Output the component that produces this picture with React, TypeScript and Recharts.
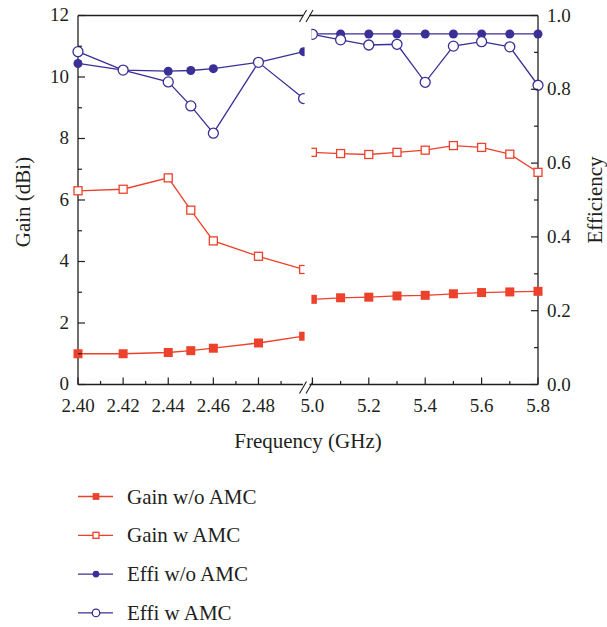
import React from "react";
import { LineChart, Line, XAxis, YAxis, Label } from "recharts";

// two bands on one broken frequency axis
const lowFreq = [2.4, 2.42, 2.44, 2.45, 2.46, 2.48, 2.5];
const highFreq = [5.0, 5.1, 5.2, 5.3, 5.4, 5.5, 5.6, 5.7, 5.8];

const gainWoLow = [1.0, 1.0, 1.04, 1.1, 1.18, 1.35, 1.57];
const gainWoHigh = [2.77, 2.82, 2.84, 2.88, 2.9, 2.95, 2.99, 3.01, 3.03];
const gainWLow = [6.3, 6.35, 6.72, 5.67, 4.67, 4.17, 3.74];
const gainWHigh = [7.55, 7.51, 7.48, 7.55, 7.62, 7.77, 7.71, 7.49, 6.9];
const effiWoLow = [0.87, 0.852, 0.849, 0.851, 0.856, 0.873, 0.902];
const effiWoHigh = [0.95, 0.95, 0.95, 0.95, 0.95, 0.95, 0.95, 0.95, 0.95];
const effiWLow = [0.902, 0.852, 0.82, 0.755, 0.681, 0.873, 0.775];
const effiWHigh = [0.949, 0.934, 0.92, 0.922, 0.819, 0.917, 0.929, 0.915, 0.811];

const lowMajorTicks = ["2.40", "2.42", "2.44", "2.46", "2.48"];
const lowMinorTicks = [2.41, 2.43, 2.45, 2.47, 2.49];
const highMajorTicks = ["5.0", "5.2", "5.4", "5.6", "5.8"];
const highMinorTicks = [5.1, 5.3, 5.5, 5.7];
const gainTicks = [0, 1, 2, 3, 4, 5, 6, 7, 8, 9, 10, 11, 12];
const effiTicks = [0, 0.1, 0.2, 0.3, 0.4, 0.5, 0.6, 0.7, 0.8, 0.9, 1.0];

const seriesNames = ["Gain w/o AMC", "Gain w AMC", "Effi w/o AMC", "Effi w AMC"];

const RED = "#EC412B";
const BLUE = "#3A2F96";
const INK = "#231F20";
const FONT = "'Liberation Serif', 'Times New Roman', serif";

type MarkerKind = "fsq" | "osq" | "fci" | "oci";

const series: { key: string; axis: string; color: string; kind: MarkerKind }[] = [
  { key: "gainWo", axis: "gain", color: RED, kind: "fsq" },
  { key: "gainW", axis: "gain", color: RED, kind: "osq" },
  { key: "effiWo", axis: "effi", color: BLUE, kind: "fci" },
  { key: "effiW", axis: "effi", color: BLUE, kind: "oci" },
];

// each band gets 100 axis units, with a small gap for the break
const SEG = 100;
const GAP = 3.9;
const BREAK = SEG + GAP / 2;
const X_MAX = 2 * SEG + GAP;
const LOW = [2.4, 2.5];
const HIGH = [5.0, 5.8];

const toPos = (f: number) =>
  f <= LOW[1] + 1e-9
    ? ((f - LOW[0]) / (LOW[1] - LOW[0])) * SEG
    : SEG + GAP + ((f - HIGH[0]) / (HIGH[1] - HIGH[0])) * SEG;

const lowRows = lowFreq.map((f, i) => ({
  pos: toPos(f),
  gainWo: gainWoLow[i],
  gainW: gainWLow[i],
  effiWo: effiWoLow[i],
  effiW: effiWLow[i],
  edge: i === lowFreq.length - 1 ? "end" : undefined,
}));
const gapRow = { pos: BREAK, gainWo: null, gainW: null, effiWo: null, effiW: null, edge: undefined };
const highRows = highFreq.map((f, i) => ({
  pos: toPos(f),
  gainWo: gainWoHigh[i],
  gainW: gainWHigh[i],
  effiWo: effiWoHigh[i],
  effiW: effiWHigh[i],
  edge: i === 0 ? "start" : undefined,
}));
const data = [...lowRows, gapRow, ...highRows];

type TickInfo = { label?: string; len: number; brk?: boolean };
const tk = (v: number) => v.toFixed(3);
const xTickInfo = new Map<string, TickInfo>();
lowMajorTicks.forEach((t) => xTickInfo.set(tk(toPos(+t)), { label: t, len: 7 }));
lowMinorTicks.forEach((f) => xTickInfo.set(tk(toPos(f)), { len: 3.5 }));
highMajorTicks.forEach((t) => xTickInfo.set(tk(toPos(+t)), { label: t, len: 7 }));
highMinorTicks.forEach((f) => xTickInfo.set(tk(toPos(f)), { len: 3.5 }));
xTickInfo.set(tk(BREAK), { len: 0, brk: true });
const xTicks = Array.from(xTickInfo.keys()).map(Number);

const BreakMark = ({ x, y, dy }: { x: number; y: number; dy: number }) => (
  <g>
    <rect x={x - 5} y={y - 2} width={6.5} height={4} fill="#fff" />
    <line x1={x - 8.5} y1={y + dy + 6} x2={x - 1.5} y2={y + dy - 6} stroke={INK} strokeWidth={1.1} />
    <line x1={x - 2} y1={y + dy + 6} x2={x + 5} y2={y + dy - 6} stroke={INK} strokeWidth={1.1} />
  </g>
);

const XTick = (props: any) => {
  const { x, y, payload } = props;
  const info = xTickInfo.get(tk(payload.value));
  if (!info) return <g />;
  if (info.brk) return <BreakMark x={x} y={y} dy={3} />;
  return (
    <g>
      {info.len > 0 && <line x1={x} x2={x} y1={y} y2={y - info.len} stroke={INK} strokeWidth={1.2} />}
      {info.label && (
        <text x={x} y={y + 27} textAnchor="middle" fontSize={19} fontFamily={FONT} fill={INK}>
          {info.label}
        </text>
      )}
    </g>
  );
};

const TopTick = (props: any) => {
  const { x, y, payload } = props;
  if (tk(payload.value) !== tk(BREAK)) return <g />;
  return <BreakMark x={x} y={y} dy={0.5} />;
};

const GainTick = (props: any) => {
  const { x, y, payload } = props;
  const v = payload.value as number;
  const major = v % 2 === 0;
  return (
    <g>
      <line x1={x} x2={x + (major ? 7 : 4)} y1={y} y2={y} stroke={INK} strokeWidth={1.2} />
      {major && (
        <text x={x - 9} y={y + 5.5} textAnchor="end" fontSize={19} fontFamily={FONT} fill={INK}>
          {v}
        </text>
      )}
    </g>
  );
};

const EffiTick = (props: any) => {
  const { x, y, payload } = props;
  const v = payload.value as number;
  const major = Math.round(v * 10) % 2 === 0;
  return (
    <g>
      <line x1={x} x2={x - (major ? 7 : 4)} y1={y} y2={y} stroke={INK} strokeWidth={1.2} />
      {major && (
        <text x={x + 9} y={y + 6} textAnchor="start" fontSize={19} fontFamily={FONT} fill={INK}>
          {v.toFixed(1)}
        </text>
      )}
    </g>
  );
};

const Marker = ({ kind, cx, cy, color, s = 1 }: { kind: MarkerKind; cx: number; cy: number; color: string; s?: number }) => {
  switch (kind) {
    case "fsq":
      return <rect x={cx - 4.5 * s} y={cy - 4.5 * s} width={9 * s} height={9 * s} fill={color} />;
    case "osq":
      return (
        <rect x={cx - 4 * s} y={cy - 4 * s} width={8 * s} height={8 * s} fill="#fff" stroke={color} strokeWidth={1.3} />
      );
    case "fci":
      return <circle cx={cx} cy={cy} r={4.5 * s} fill={color} />;
    default:
      return <circle cx={cx} cy={cy} r={5 * s} fill="#fff" stroke={color} strokeWidth={1.3} />;
  }
};

// markers at the axis break are cut in half, like the panels they sit on
const makeDot = (kind: MarkerKind, color: string, key: string) => (props: any) => {
  const { cx, cy, index, payload } = props;
  const rk = `${key}-${index}`;
  if (cx == null || cy == null || payload == null || payload[key] == null) return <g key={rk} />;
  const shape = <Marker kind={kind} cx={cx} cy={cy} color={color} />;
  if (!payload.edge) return <g key={rk}>{shape}</g>;
  const id = `clip-${rk}`;
  const left = payload.edge === "end" ? cx - 10 : cx - 1;
  return (
    <g key={rk}>
      <defs>
        <clipPath id={id}>
          <rect x={left} y={cy - 10} width={11} height={20} />
        </clipPath>
      </defs>
      <g clipPath={`url(#${id})`}>{shape}</g>
    </g>
  );
};

const ChartLegend = () => (
  <svg width={300} height={157} style={{ position: "absolute", left: 78, top: 477 }}>
    {series.map((s, i) => {
      const cy = 19.5 + i * 38.8;
      return (
        <g key={s.key}>
          <line x1={0} x2={35} y1={cy} y2={cy} stroke={s.color} strokeWidth={1.3} />
          <Marker kind={s.kind} cx={18} cy={cy} color={s.color} s={0.75} />
          <text x={49} y={cy + 7} fontSize={21} fontFamily={FONT} fill={INK}>
            {seriesNames[i]}
          </text>
        </g>
      );
    })}
  </svg>
);

export default function App() {
  return (
    <div style={{ position: "absolute", left: 0, top: 0, width: 607, height: 627, background: "#fff" }}>
      <LineChart width={607} height={460} data={data} margin={{ top: 14.5, right: 0, bottom: 0, left: 0 }}>
        <XAxis
          type="number"
          dataKey="pos"
          domain={[0, X_MAX]}
          ticks={xTicks}
          interval={0}
          height={75.5}
          tickSize={0}
          tickMargin={0}
          tickLine={false}
          tick={<XTick />}
          axisLine={{ stroke: INK, strokeWidth: 1.3 }}
        >
          <Label
            content={({ viewBox }: any) => (
              <text
                x={viewBox.x + viewBox.width / 2}
                y={viewBox.y + 63.5}
                textAnchor="middle"
                fontSize={21}
                fontFamily={FONT}
                fill={INK}
              >
                Frequency (GHz)
              </text>
            )}
          />
        </XAxis>
        <XAxis
          xAxisId="top"
          orientation="top"
          type="number"
          dataKey="pos"
          domain={[0, X_MAX]}
          ticks={[BREAK]}
          interval={0}
          height={1}
          tickSize={0}
          tickMargin={0}
          tickLine={false}
          tick={<TopTick />}
          axisLine={{ stroke: INK, strokeWidth: 1.3 }}
        />
        <YAxis
          yAxisId="gain"
          domain={[0, 12]}
          ticks={gainTicks}
          interval={0}
          width={78}
          tickSize={0}
          tickMargin={0}
          tickLine={false}
          tick={<GainTick />}
          axisLine={{ stroke: INK, strokeWidth: 1.3 }}
        >
          <Label
            content={({ viewBox }: any) => {
              const x = viewBox.x + 29.5;
              const y = viewBox.y + viewBox.height / 2 + 2;
              return (
                <text
                  x={x}
                  y={y}
                  transform={`rotate(-90, ${x}, ${y})`}
                  textAnchor="middle"
                  fontSize={21}
                  fontFamily={FONT}
                  fill={INK}
                >
                  Gain (dBi)
                </text>
              );
            }}
          />
        </YAxis>
        <YAxis
          yAxisId="effi"
          orientation="right"
          domain={[0, 1]}
          ticks={effiTicks}
          interval={0}
          width={69}
          tickSize={0}
          tickMargin={0}
          tickLine={false}
          tick={<EffiTick />}
          axisLine={{ stroke: INK, strokeWidth: 1.3 }}
        >
          <Label
            content={({ viewBox }: any) => {
              const x = viewBox.x + 64;
              const y = viewBox.y + viewBox.height / 2;
              return (
                <text
                  x={x}
                  y={y}
                  transform={`rotate(-90, ${x}, ${y})`}
                  textAnchor="middle"
                  fontSize={21}
                  fontFamily={FONT}
                  fill={INK}
                >
                  Efficiency
                </text>
              );
            }}
          />
        </YAxis>
        {series.map((s) => (
          <Line
            key={s.key}
            yAxisId={s.axis}
            dataKey={s.key}
            type="linear"
            stroke={s.color}
            strokeWidth={1.3}
            dot={makeDot(s.kind, s.color, s.key)}
            activeDot={false}
            isAnimationActive={false}
          />
        ))}
      </LineChart>
      <ChartLegend />
    </div>
  );
}
